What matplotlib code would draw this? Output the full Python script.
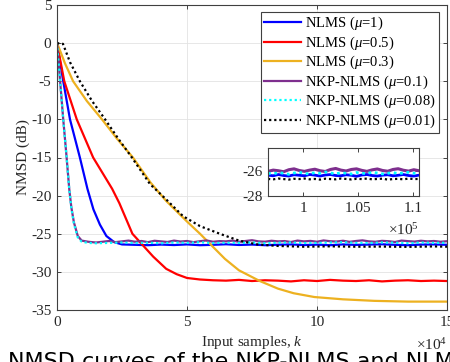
import numpy as np
import matplotlib
matplotlib.use('Agg')
import matplotlib.pyplot as plt

plt.rcParams['font.family'] = ['Liberation Serif', 'DejaVu Serif']
plt.rcParams['mathtext.fontset'] = 'custom'
plt.rcParams['mathtext.rm'] = 'Liberation Serif'
plt.rcParams['mathtext.it'] = 'Liberation Serif:italic'
plt.rcParams['axes.unicode_minus'] = False

# samples in units of 1e4, NMSD in dB
k_nlms1 = [0, 0.24, 0.5, 0.88, 1.17, 1.4, 1.65, 1.9, 2.2]
v_nlms1 = [0, -5, -10, -15, -19.1, -21.8, -23.8, -25.3, -26.1]
flat_nlms1 = [-26.4, -26.45, -26.5, -26.42, -26.48, -26.4, -26.5, -26.45, -26.38, -26.47,
              -26.42, -26.5, -26.44, -26.4, -26.48, -26.43, -26.5, -26.4, -26.46, -26.42,
              -26.38, -26.45, -26.5, -26.42, -26.4, -26.45]

k_nlms05 = [0, 0.28, 0.76, 1.39, 2.12, 2.4, 2.9, 3.3, 3.7, 4.2, 4.6, 5.0]
v_nlms05 = [0, -5, -10, -15, -19.1, -21.0, -25.0, -26.5, -28.0, -29.6, -30.3, -30.8]
flat_nlms05 = [-31.0, -31.1, -31.15, -31.05, -31.2, -31.1, -31.15, -31.25, -31.1, -31.2,
               -31.05, -31.15, -31.2, -31.1, -31.25, -31.15, -31.1, -31.2, -31.15, -31.2]

k_nlms03 = [0, 0.12, 0.3, 0.62, 1.15, 1.73, 2.3, 2.92, 3.6, 4.2, 5.0, 5.5, 6.46, 7.0, 7.8,
            8.5, 9.1, 9.9, 11.0, 12.2, 13.5, 15.0]
v_nlms03 = [0, -1.0, -2.6, -5.0, -7.6, -10.0, -12.5, -15.0, -18.3, -20.7, -23.4, -25.0,
            -28.3, -29.8, -31.2, -32.2, -32.8, -33.3, -33.6, -33.8, -33.9, -33.9]

k_nkp01 = [0, 0.12, 0.24, 0.37, 0.47, 0.55, 0.65, 0.8, 0.95, 1.2]
v_nkp01 = [0, -5, -10, -15, -19.1, -21.5, -23.5, -25.3, -25.9, -26.05]
flat_nkp01 = [-26.15, -26.05, -25.95, -26.1, -26.0, -25.9, -26.05, -25.95, -26.1, -25.92,
              -26.0, -26.08, -25.9, -26.02, -25.95, -26.1, -25.98, -25.88, -26.05, -25.97,
              -26.0, -25.9, -26.06, -25.95, -25.85, -26.0, -26.04, -25.92, -26.0, -25.96,
              -26.08, -25.9, -26.0, -25.94, -26.05, -25.88, -25.98, -26.02, -25.92, -26.06,
              -25.95, -25.87, -26.0, -26.05, -25.93, -25.98, -26.08, -25.9, -25.97, -26.03,
              -25.92, -26.0, -25.95, -26.05, -25.98]

k_nkp008 = [0, 0.12, 0.24, 0.37, 0.47, 0.55, 0.65, 0.8, 0.95, 1.2]
v_nkp008 = [0, -5, -10, -15, -19.1, -21.6, -23.7, -25.5, -26.05, -26.2]
flat_nkp008 = [-26.25, -26.2, -26.15, -26.22, -26.18, -26.25, -26.15, -26.2, -26.12, -26.22,
               -26.18, -26.2, -26.14, -26.24, -26.18, -26.15, -26.22, -26.2, -26.16, -26.12,
               -26.2, -26.22, -26.15, -26.18, -26.24, -26.16, -26.2, -26.18]

k_nkp001 = [0, 0.23, 0.5, 0.88, 1.35, 1.85, 2.35, 2.88, 3.58, 4.2, 4.85, 5.5, 6.3, 7.0,
            7.7, 8.5, 9.5, 10.5, 11.5, 12.5, 13.5, 14.5, 15.0]
v_nkp001 = [0, -0.1, -2.5, -5.0, -7.6, -10.0, -12.5, -15.0, -18.5, -20.5, -22.7, -24.0,
            -25.05, -25.9, -26.4, -26.6, -26.7, -26.65, -26.7, -26.68, -26.72, -26.66, -26.7]

# zoomed window (units of 1e4)
inset_purple = [-26.05, -25.95, -26.0, -26.08, -25.92, -25.85, -25.98, -26.05, -25.95, -25.88,
                -26.0, -26.06, -25.9, -25.82, -25.95, -26.02, -25.9, -25.85, -25.97, -26.05,
                -25.93, -25.86, -25.98, -26.04, -25.9, -25.84, -25.96, -26.03, -25.92, -26.0]
inset_cyan = [-26.2, -26.25, -26.15, -26.2, -26.28, -26.18, -26.12, -26.22, -26.25, -26.15,
              -26.2, -26.1, -26.18, -26.24, -26.16, -26.2, -26.26, -26.14, -26.2, -26.22,
              -26.12, -26.18, -26.25, -26.2, -26.15, -26.22, -26.18, -26.12, -26.2, -26.24]
inset_blue = [-26.35, -26.4, -26.3, -26.38, -26.42, -26.32, -26.36, -26.4, -26.3, -26.35,
              -26.42, -26.34, -26.3, -26.38, -26.4, -26.32, -26.36, -26.44, -26.34, -26.3,
              -26.38, -26.42, -26.35, -26.32, -26.4, -26.36, -26.3, -26.38, -26.42, -26.35]
inset_black = [-26.65, -26.68, -26.62, -26.66, -26.7, -26.64, -26.66, -26.62, -26.68, -26.65,
               -26.7, -26.63, -26.66, -26.68, -26.62, -26.65, -26.69, -26.64, -26.66, -26.62,
               -26.68, -26.65, -26.63, -26.7, -26.66, -26.64, -26.68, -26.62, -26.66, -26.65]
inset_start, inset_end = 9.68, 11.05

labels = [r'NLMS ($\mu$=1)', r'NLMS ($\mu$=0.5)', r'NLMS ($\mu$=0.3)',
          r'NKP-NLMS ($\mu$=0.1)', r'NKP-NLMS ($\mu$=0.08)', r'NKP-NLMS ($\mu$=0.01)']


def full(k, v, flat, start, stop):
    kk = np.concatenate([k, np.linspace(start, stop, len(flat))])
    vv = np.concatenate([v, flat])
    return kk * 1e4, vv


c_blue, c_red, c_yel = '#0000ff', '#ff0000', '#edb120'
c_pur, c_cyan, c_blk = '#7e2f8e', '#00ffff', '#000000'
dots = (0, (1, 1.3))
txt = '#262626'

fig = plt.figure(figsize=(4.5, 3.62), dpi=100)
ax = fig.add_axes([57 / 450, 1 - 310 / 362, 390 / 450, 305 / 362])

x, y = full(k_nlms1, v_nlms1, flat_nlms1, 2.5, 15)
ax.plot(x, y, color=c_blue, lw=1.6, label=labels[0])
x, y = full(k_nlms05, v_nlms05, flat_nlms05, 5.5, 15)
ax.plot(x, y, color=c_red, lw=1.6, label=labels[1])
ax.plot(np.array(k_nlms03) * 1e4, v_nlms03, color=c_yel, lw=1.6, label=labels[2])
x, y = full(k_nkp01, v_nkp01, flat_nkp01, 1.5, 15)
ax.plot(x, y, color=c_pur, lw=1.6, label=labels[3])
x, y = full(k_nkp008, v_nkp008, flat_nkp008, 1.5, 15)
ax.plot(x, y, color=c_cyan, lw=1.6, ls=dots, label=labels[4])
ax.plot(np.array(k_nkp001) * 1e4, v_nkp001, color=c_blk, lw=1.6, ls=dots, label=labels[5])

ax.set_xlim(0, 15e4)
ax.set_ylim(-35, 5)
ax.set_xticks([0, 5e4, 10e4, 15e4])
ax.set_xticklabels(['0', '5', '10', '15'])
ax.set_yticks(np.arange(-35, 6, 5))
ax.grid(True, color='#e3e3e3', lw=0.6)
ax.set_axisbelow(True)
ax.tick_params(direction='in', top=True, right=True, labelsize=11, colors=txt,
               length=3, width=0.6, pad=4)
for s in ax.spines.values():
    s.set_color('#404040')
    s.set_linewidth(0.8)
ax.set_xlabel(r'Input samples, $k$', fontsize=11, color=txt, labelpad=4)
ax.set_ylabel('NMSD (dB)', fontsize=11, color=txt, labelpad=1)
ax.text(1.0, -0.09, '×10$^{4}$', transform=ax.transAxes, ha='right', va='top',
        fontsize=11, color=txt)

leg = ax.legend(loc='upper right', bbox_to_anchor=(0.9795, 0.977), fontsize=10.5,
                frameon=True, fancybox=False, framealpha=1, edgecolor='#404040',
                handlelength=2.55, handletextpad=0.3, labelspacing=0.15,
                borderpad=0.2, borderaxespad=0)
leg.get_frame().set_linewidth(0.8)

# zoomed inset
axi = fig.add_axes([268 / 450, 1 - 196 / 362, 151 / 450, 48 / 362])
xi = np.linspace(inset_start, inset_end, len(inset_purple)) * 1e4
axi.plot(xi, inset_blue, color=c_blue, lw=2)
axi.plot(xi, inset_purple, color=c_pur, lw=2.2)
axi.plot(xi, inset_cyan, color=c_cyan, lw=2, ls=dots)
axi.plot(xi, inset_black, color=c_blk, lw=1.6, ls=dots)
axi.set_xlim(inset_start * 1e4, inset_end * 1e4)
axi.set_ylim(-28, -24.2)
axi.set_xticks([10e4, 10.5e4, 11e4])
axi.set_xticklabels(['1', '1.05', '1.1'])
axi.set_yticks([-28, -26])
axi.tick_params(direction='in', top=True, right=True, labelsize=11, colors=txt,
                length=3, width=0.6, pad=4)
for s in axi.spines.values():
    s.set_color('#404040')
    s.set_linewidth(0.8)
axi.text(1.0, -0.55, '×10$^{5}$', transform=axi.transAxes, ha='right', va='top',
         fontsize=11, color=txt)

fig.text(8 / 450, 1 - 352 / 362, 'NMSD curves of the NKP-NLMS and NLMS', fontsize=16,
         family='DejaVu Sans', va='top', ha='left')

fig.savefig('out.png', dpi=100)
